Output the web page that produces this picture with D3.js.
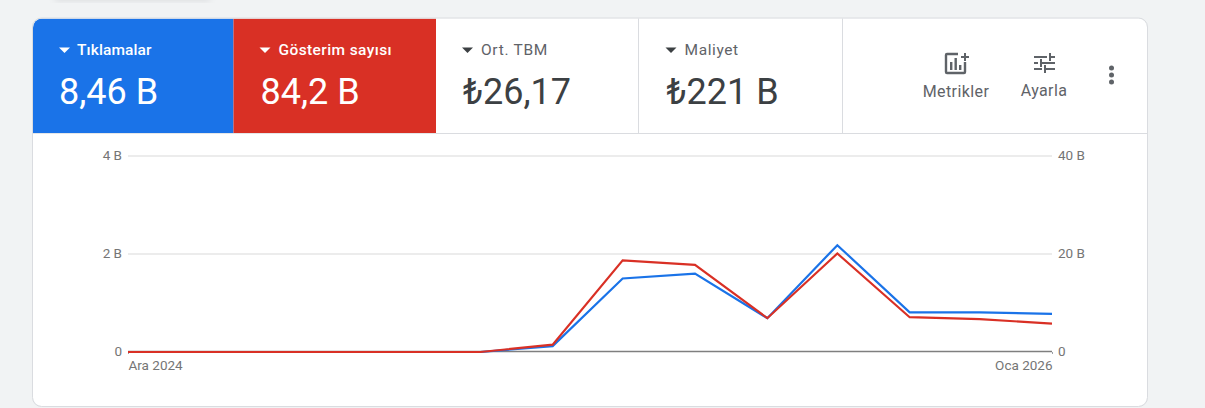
<!DOCTYPE html>
<html lang="tr">
<head>
<meta charset="utf-8">
<title>Tıklamalar ve gösterim sayısı</title>
<script src="https://cdn.jsdelivr.net/npm/d3@7"></script>
<style>
	html, body { margin: 0; padding: 0; background: #f1f3f4; overflow: hidden; }
	svg { display: block; font-family: Roboto, sans-serif; }
	.axis text { font-size: 13.5px; fill: #757575; font-family: Roboto, sans-serif; }
	.axis .domain { display: none; }
	.grid line { stroke: #e6e6e6; stroke-width: 1.5; }
</style>
</head>
<body>
<div id="vis"></div>
<script>
const FRAME_WIDTH = 1205;
const FRAME_HEIGHT = 408;
const CARD = {left: 33, right: 1147, top: 18.5, bottom: 406, header: 133};
const PLOT = {left: 128, right: 1052, top: 156, bottom: 352};

// chart data
const months = ["2024-12-01", "2025-01-01", "2025-02-01", "2025-03-01", "2025-04-01", "2025-05-01", "2025-06-01",
	"2025-07-01", "2025-08-01", "2025-09-01", "2025-10-01", "2025-11-01", "2025-12-01", "2026-01-01"];
const clicks = [0, 0, 0, 0, 0, 0, 0.12, 1.50, 1.60, 0.69, 2.18, 0.81, 0.81, 0.78];
const impressions = [0, 0, 0, 0, 0, 0, 1.5, 18.7, 17.8, 6.9, 20.1, 7.1, 6.7, 5.8];
const leftTicks = [0, 2, 4];
const rightTicks = [0, 20, 40];
const xTickLabels = ["Ara 2024", "Oca 2026"];

// header data
const metricNames = ["Tıklamalar", "Gösterim sayısı", "Ort. TBM", "Maliyet"];
const metricValues = ["8,46 B", "84,2 B", "₺26,17", "₺221 B"];

// tab layout
const TAB_EDGES = [33, 233.5, 436, 638, 842];
const TAB_SHIFT = [0, 0, 0, 1.5];
const TAB_FILLS = ["#1a73e8", "#d93025", "#fff", "#fff"];
const TAB_TEXT = ["#fff", "#fff", "#3c4043", "#3c4043"];
const TAB_LABEL = ["#fff", "#fff", "#5f6368", "#5f6368"];
const LABEL_SPACING = ["0.1px", "0.4px", "0.7px", "0.6px"];

const FRAME = d3.select("#vis")
	.append("svg")
		.attr("width", FRAME_WIDTH)
		.attr("height", FRAME_HEIGHT);

const defs = FRAME.append("defs");
defs.append("filter").attr("id", "soft")
	.append("feGaussianBlur").attr("stdDeviation", 3);
defs.append("clipPath").attr("id", "card-clip")
	.append("rect")
		.attr("x", CARD.left)
		.attr("y", CARD.top)
		.attr("width", CARD.right - CARD.left)
		.attr("height", CARD.bottom - CARD.top)
		.attr("rx", 9);

// faint shadow of the element above the card
FRAME.append("rect")
	.attr("x", 55).attr("y", -12)
	.attr("width", 155).attr("height", 13)
	.attr("fill", "#dcdee0")
	.attr("filter", "url(#soft)");

// card
FRAME.append("rect")
	.attr("x", CARD.left)
	.attr("y", CARD.top)
	.attr("width", CARD.right - CARD.left)
	.attr("height", CARD.bottom - CARD.top)
	.attr("rx", 9)
	.attr("fill", "#fff");

const HEADER = FRAME.append("g").attr("clip-path", "url(#card-clip)");

HEADER.selectAll(".tab")
	.data(metricNames)
	.enter()
	.append("rect")
		.attr("class", "tab")
		.attr("x", (d, i) => TAB_EDGES[i])
		.attr("y", CARD.top)
		.attr("width", (d, i) => TAB_EDGES[i + 1] - TAB_EDGES[i])
		.attr("height", CARD.header - CARD.top)
		.attr("fill", (d, i) => TAB_FILLS[i]);

// header dividers
[638.5, 842.5].forEach((x) => {
	FRAME.append("line")
		.attr("x1", x).attr("x2", x)
		.attr("y1", CARD.top).attr("y2", CARD.header)
		.attr("stroke", "#dadce0");
});
FRAME.append("line")
	.attr("x1", 436).attr("x2", CARD.right)
	.attr("y1", CARD.header + 0.5).attr("y2", CARD.header + 0.5)
	.attr("stroke", "#dadce0");
FRAME.append("line")
	.attr("x1", CARD.left).attr("x2", 436)
	.attr("y1", CARD.header + 0.5).attr("y2", CARD.header + 0.5)
	.attr("stroke", "#e4e6e8");

const tabs = FRAME.selectAll(".metric")
	.data(metricNames)
	.enter()
	.append("g")
		.attr("class", "metric")
		.attr("transform", (d, i) => "translate(" + (TAB_EDGES[i] + TAB_SHIFT[i]) + ",0)");

tabs.append("path")
	.attr("d", "M26 47.5h11l-5.5 5.5z")
	.attr("fill", (d, i) => i < 2 ? "#fff" : "#3c4043");

tabs.append("text")
	.attr("x", (d, i) => i === 0 ? 44 : 45)
	.attr("y", 55)
	.attr("font-size", "15.5px")
	.attr("font-weight", (d, i) => i < 2 ? 500 : 400)
	.attr("letter-spacing", (d, i) => LABEL_SPACING[i])
	.attr("fill", (d, i) => TAB_LABEL[i])
	.text((d) => d);

tabs.append("text")
	.attr("x", (d, i) => i === 0 ? 26 : 27)
	.attr("y", 104)
	.attr("font-size", "36px")
	.attr("fill", (d, i) => TAB_TEXT[i])
	.text((d, i) => metricValues[i]);

// toolbar on the right
const TOOLS = FRAME.append("g").attr("fill", "#5f6368");

TOOLS.append("path")
	.attr("transform", "translate(945,53)")
	.attr("fill", "none")
	.attr("stroke", "#5f6368")
	.attr("stroke-width", 2.4)
	.attr("d", "M13 1H2a1 1 0 0 0-1 1v17a1 1 0 0 0 1 1h17a1 1 0 0 0 1-1V9");
TOOLS.append("path")
	.attr("transform", "translate(945,53)")
	.attr("d", "M5 9h2.4v8H5zM9.5 5h2.4v12H9.5zM14 12h2.4v5H14zM19 0h2v3h3v2h-3v3h-2V5h-3V3h3z");

TOOLS.append("path")
	.attr("transform", "translate(1034,53)")
	.attr("d", "M0 3h13v2H0zM15 0h2v8h-2zM17 3h4v2h-4zM0 9h4v2H0zM6 6h2v8H6zM8 9h13v2H8zM0 15h8v2H0zM10 12h2v8h-2zM12 15h9v2h-9z");

TOOLS.append("text")
	.attr("x", 956).attr("y", 97)
	.attr("text-anchor", "middle")
	.attr("font-size", "16px")
	.attr("letter-spacing", "0.4px")
	.text("Metrikler");
TOOLS.append("text")
	.attr("x", 1044).attr("y", 96)
	.attr("text-anchor", "middle")
	.attr("font-size", "16px")
	.attr("letter-spacing", "0.4px")
	.text("Ayarla");

[68, 75, 82].forEach((y) => {
	TOOLS.append("circle").attr("cx", 1111.5).attr("cy", y).attr("r", 2.5);
});

// scales
const DATES = months.map((d) => new Date(d));

const X_SCALE = d3.scaleUtc()
	.domain(d3.extent(DATES))
	.range([PLOT.left, PLOT.right]);
const Y_LEFT = d3.scaleLinear()
	.domain([0, 4])
	.range([PLOT.bottom, PLOT.top]);
const Y_RIGHT = d3.scaleLinear()
	.domain([0, 40])
	.range([PLOT.bottom, PLOT.top]);

// gridlines
FRAME.append("g")
	.attr("class", "grid")
	.selectAll("line")
	.data(leftTicks.filter((d) => d > 0))
	.enter()
	.append("line")
		.attr("x1", PLOT.left)
		.attr("x2", PLOT.right)
		.attr("y1", (d) => Y_LEFT(d))
		.attr("y2", (d) => Y_LEFT(d));

// axes
const LEFT_AXIS = FRAME.append("g")
	.attr("class", "axis")
	.attr("transform", "translate(" + PLOT.left + ",0)")
	.call(d3.axisLeft(Y_LEFT)
		.tickValues(leftTicks)
		.tickSize(0)
		.tickPadding(6)
		.tickFormat((d) => d === 0 ? "0" : d + " B"));

const RIGHT_AXIS = FRAME.append("g")
	.attr("class", "axis")
	.attr("transform", "translate(" + PLOT.right + ",0)")
	.call(d3.axisRight(Y_RIGHT)
		.tickValues(rightTicks)
		.tickSize(0)
		.tickPadding(6)
		.tickFormat((d) => d === 0 ? "0" : d + " B"));

LEFT_AXIS.selectAll("text").attr("y", -1);
RIGHT_AXIS.selectAll("text").attr("y", -1);

const X_AXIS = FRAME.append("g")
	.attr("class", "axis")
	.attr("transform", "translate(0," + PLOT.bottom + ")")
	.call(d3.axisBottom(X_SCALE)
		.tickValues(d3.extent(DATES))
		.tickSize(2)
		.tickPadding(6)
		.tickFormat((d, i) => xTickLabels[i]));
X_AXIS.selectAll("line").attr("stroke", "#9aa0a6");
X_AXIS.selectAll("text")
	.attr("text-anchor", (d, i) => i === 0 ? "start" : "end");

// baseline
FRAME.append("line")
	.attr("x1", PLOT.left)
	.attr("x2", PLOT.right)
	.attr("y1", Y_LEFT(0) - 0.5)
	.attr("y2", Y_LEFT(0) - 0.5)
	.attr("stroke", "#7f7f7f")
	.attr("stroke-width", 1.4);

// series
const line = (y) => d3.line()
	.x((d, i) => X_SCALE(DATES[i]))
	.y((d) => y(d));

FRAME.append("path")
	.datum(clicks)
	.attr("fill", "none")
	.attr("stroke", "#1a73e8")
	.attr("stroke-width", 2.2)
	.attr("d", line(Y_LEFT));

FRAME.append("path")
	.datum(impressions)
	.attr("fill", "none")
	.attr("stroke", "#d93025")
	.attr("stroke-width", 2.2)
	.attr("d", line(Y_RIGHT));

// card outline goes last so the coloured tabs sit inside it
FRAME.append("rect")
	.attr("x", CARD.left - 0.5)
	.attr("y", CARD.top - 0.5)
	.attr("width", CARD.right - CARD.left + 1)
	.attr("height", CARD.bottom - CARD.top + 1)
	.attr("rx", 9)
	.attr("fill", "none")
	.attr("stroke", "#dadce0");
</script>
</body>
</html>
